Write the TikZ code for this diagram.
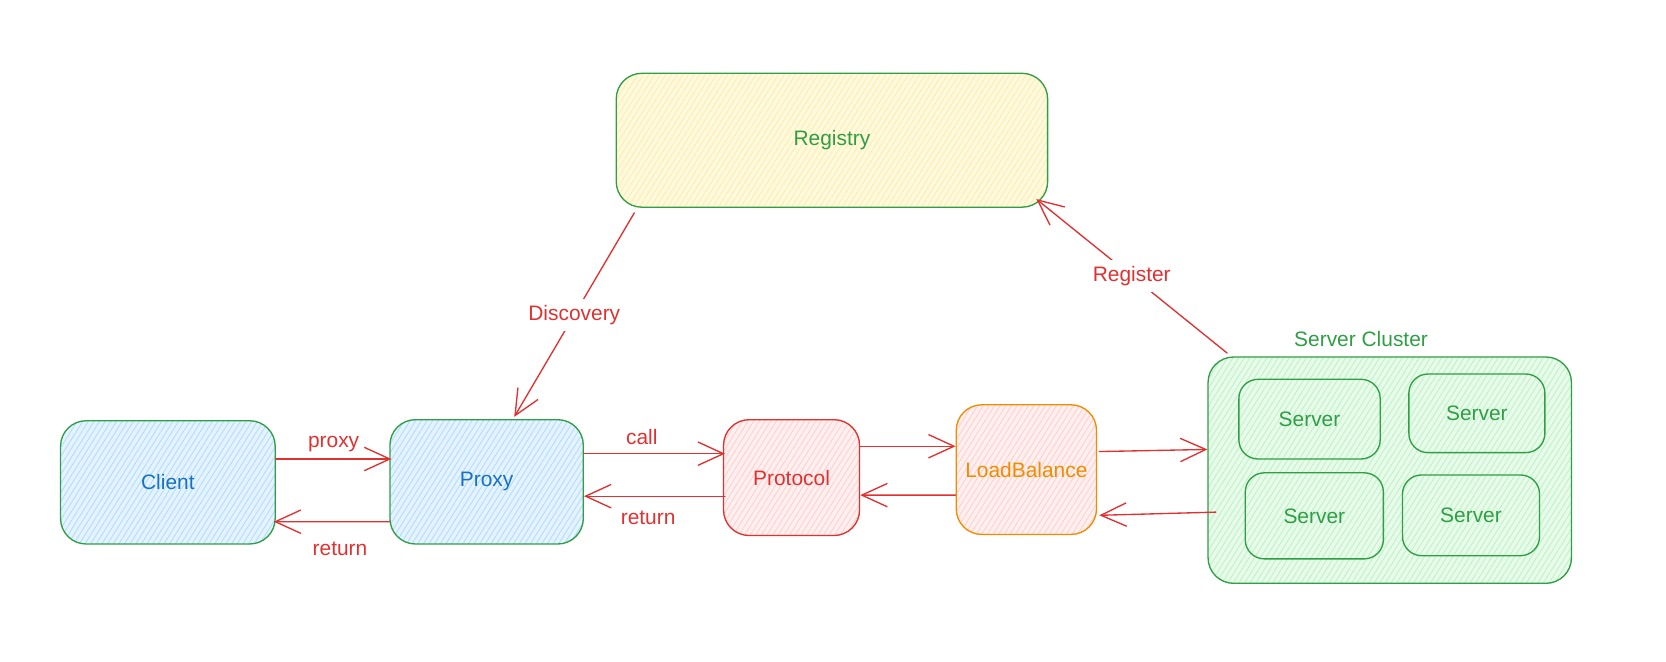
\documentclass[tikz,border=0pt]{standalone}
\usepackage{fontspec}
\setmainfont{Liberation Sans}
\usetikzlibrary{arrows.meta,calc,patterns.meta}
\definecolor{cgreen}{HTML}{2F9E44}
\definecolor{cblue}{HTML}{1971C2}
\definecolor{cred}{HTML}{E03131}
\definecolor{corange}{HTML}{F08C00}
\definecolor{fblue}{HTML}{A5D8FF}
\definecolor{fyellow}{HTML}{FFEC99}
\definecolor{fred}{HTML}{FFC9C9}
\definecolor{fgreen}{HTML}{B2F2BB}
\begin{document}
\begin{tikzpicture}[x=0.025cm,y=-0.025cm,
  font=\fontsize{14}{16}\selectfont,
  box/.style n args={4}{draw=#1, line width=0.9pt, rounded corners=0.6cm,
    minimum width=#3*0.025cm, minimum height=#4*0.025cm, inner sep=0pt,
    preaction={fill=#2!30!white},
    pattern={Lines[angle=58,distance=3.2pt,line width=0.45pt]}, pattern color=#2},
  sbox/.style 2 args={box={cgreen}{fgreen}{#1}{#2}, rounded corners=0.45cm, text=cgreen},
  arr/.style={draw=cred, line width=0.9pt, line cap=round, line join=round,
    -{Straight Barb[length=0.6cm, width=0.55cm, line width=0.9pt]}},
  lbl/.style={text=cred, inner sep=1pt},
  cutlbl/.style={text=cred, fill=white, inner sep=4pt}]
\useasboundingbox (0,0) rectangle (1568,623);

% boxes
\node[box={cgreen}{fyellow}{406}{126}, text=cgreen] (registry) at (783,132) {Registry};
\node[box={cgreen}{fblue}{202}{116}, text=cblue] (client) at (158,454) {Client};
\node[box={cgreen}{fblue}{182}{117}, text=cblue] (proxy) at (458,453.5) {Proxy};
\node[box={cred}{fred}{128}{109}, text=cred] (protocol) at (745,449.5) {Protocol};
\node[box={corange}{fred}{132}{122}, text=corange] (lb) at (966,442) {LoadBalance};
\node[box={cgreen}{fgreen}{342}{213}] (cluster) at (1308,442.5) {};
\node[text=cgreen] (clusterlbl) at (1281,319) {Server Cluster};
\node[sbox={133}{75}] (s1) at (1232.5,394.5) {Server};
\node[sbox={128}{74}] (s2) at (1390,389) {Server};
\node[sbox={130}{81}] (s3) at (1237,485.5) {Server};
\node[sbox={129}{76}] (s4) at (1384.5,485) {Server};

% connectors
\draw[arr] ($(client.east)+(0,-22)$) -- node[lbl, yshift=0.36cm] {proxy} ($(proxy.west)+(2,-21.5)$);
\draw[arr] ($(proxy.west)+(0,37.5)$) -- node[lbl, yshift=-0.65cm, xshift=0.2cm] {return} ($(client.east)+(-2,37)$);
\draw[arr] ($(proxy.east)+(0,-26.5)$) -- node[lbl, yshift=0.4cm, xshift=-0.3cm] {call} ($(protocol.west)+(2,-22.5)$);
\draw[arr] ($(protocol.west)+(2,17.5)$) -- node[lbl, yshift=-0.5cm, xshift=-0.15cm] {return} ($(proxy.east)+(0,13.5)$);
\draw[arr] ($(protocol.east)+(0,-29.5)$) -- ($(lb.west)+(0,-22)$);
\draw[arr] ($(lb.west)+(0,24)$) -- ($(protocol.east)+(0,16.5)$);
\draw[arr] ($(lb.east)+(2,-17)$) -- ($(cluster.west)+(0,-19.5)$);
\draw[arr] ($(cluster.west)+(8,39.5)$) -- ($(lb.east)+(2,43)$);
\draw[arr] ($(registry.south)+(-186,5)$) -- node[cutlbl] {Discovery} ($(proxy.north)+(26,-2)$);
\draw[arr] ($(cluster.north)+(-153,-3)$) -- node[cutlbl] {Register} ($(registry.south east)+(-11,-8)$);
\end{tikzpicture}
\end{document}
